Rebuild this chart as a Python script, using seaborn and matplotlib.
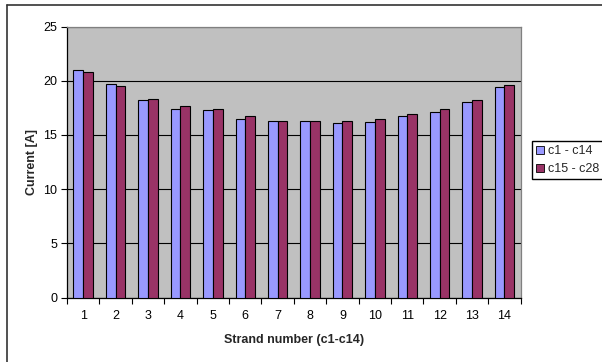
import matplotlib
matplotlib.use("Agg")
import matplotlib.pyplot as plt
import seaborn as sns
import pandas as pd
from matplotlib.lines import Line2D
from matplotlib.patches import Patch

strands = [str(i) for i in range(1, 15)]
c1_c14 = [21.0, 19.65, 18.2, 17.35, 17.27, 16.47, 16.25, 16.25, 16.07, 16.16, 16.72, 17.08, 18.0, 19.42]
c15_c28 = [20.83, 19.55, 18.28, 17.7, 17.36, 16.72, 16.25, 16.25, 16.25, 16.47, 16.9, 17.36, 18.19, 19.63]
series_names = ["c1 - c14", "c15 - c28"]
colors = ["#9999FF", "#993366"]

df = pd.DataFrame({
    "strand": strands * 2,
    "current": c1_c14 + c15_c28,
    "series": [series_names[0]] * 14 + [series_names[1]] * 14,
})

sns.set_theme(style="white")
plt.rcParams["font.family"] = ["Liberation Sans", "DejaVu Sans"]

fig = plt.figure(figsize=(6.02, 3.62), dpi=100)
ax = fig.add_axes([67 / 602, 1 - 297.5 / 362, (520.7 - 67) / 602, (297.5 - 26.5) / 362])
ax.set_facecolor("#C0C0C0")

sns.barplot(data=df, x="strand", y="current", hue="series", order=strands,
            hue_order=series_names, palette=colors, width=0.6, gap=0,
            edgecolor="black", linewidth=0.8, saturation=1, ax=ax, legend=False, zorder=3)

ax.set_ylim(0, 25)
ax.set_xlim(-0.5, 13.5)
ax.set_yticks([0, 5, 10, 15, 20, 25])
ax.yaxis.grid(True, color="black", linewidth=0.8, zorder=0)
ax.set_axisbelow(True)

# tick marks between categories, labels under each category
ax.set_xticks(range(14))
ax.set_xticklabels(strands)
ax.set_xticks([i - 0.5 for i in range(15)], minor=True)
ax.tick_params(axis="x", which="major", length=0, pad=9, labelsize=9, colors="black")
ax.tick_params(axis="x", which="minor", length=4, width=0.8, direction="out", color="black", bottom=True)
ax.tick_params(axis="y", length=4, width=0.8, direction="out", color="black", left=True, pad=3, labelsize=9, labelcolor="black")

for side in ["left", "bottom"]:
    ax.spines[side].set_color("black")
    ax.spines[side].set_linewidth(0.9)
for side in ["top", "right"]:
    ax.spines[side].set_color("#808080")
    ax.spines[side].set_linewidth(0.9)

ax.set_xlabel("Strand number (c1-c14)", fontsize=9, fontweight="bold", labelpad=9)
ax.set_ylabel("Current [A]", fontsize=9, fontweight="bold", labelpad=4)

handles = [Patch(facecolor=c, edgecolor="black", linewidth=0.6) for c in colors]
fig.legend(handles, series_names, loc="upper left",
           bbox_to_anchor=(532 / 602, 1 - 141 / 362), frameon=True, fancybox=False,
           edgecolor="black", framealpha=1, fontsize=9, handlelength=0.6, handleheight=0.6,
           handletextpad=0.3, borderpad=0.35, labelspacing=0.45, borderaxespad=0)

# chart frame
fig.add_artist(Line2D([7 / 602, 1.0], [1 - 5 / 362, 1 - 5 / 362], transform=fig.transFigure, color="#333333", linewidth=1.2))
fig.add_artist(Line2D([7 / 602, 7 / 602], [0, 1 - 5 / 362], transform=fig.transFigure, color="#333333", linewidth=1.2))

fig.savefig("out.png", dpi=100)
